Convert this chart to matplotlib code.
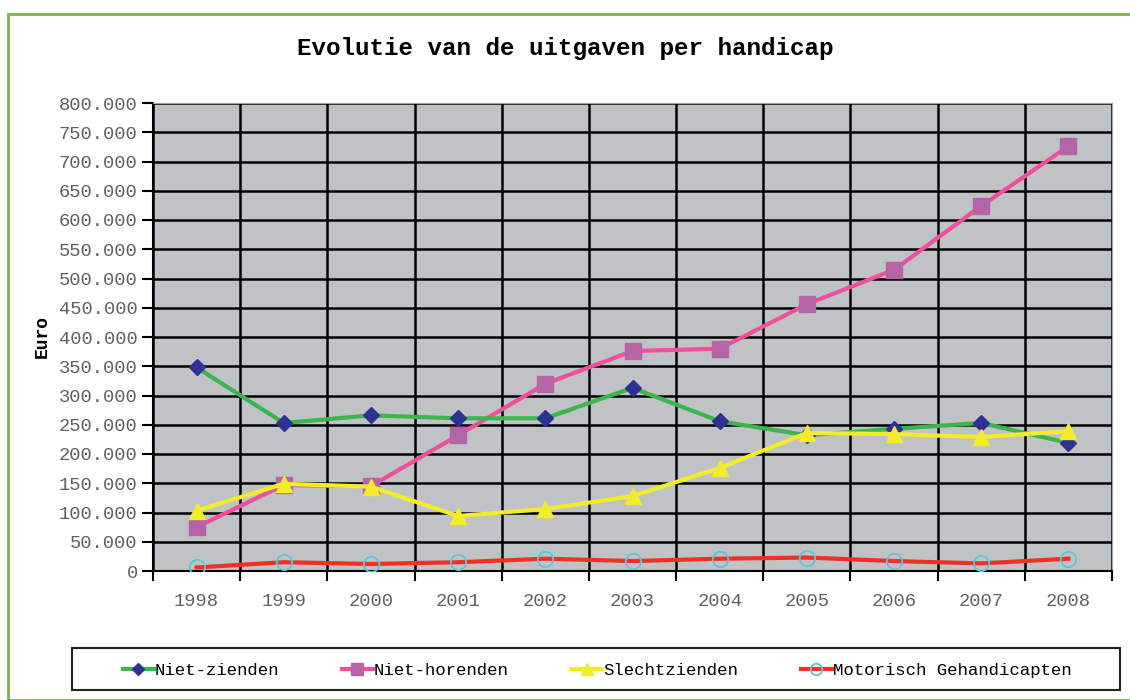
import matplotlib.pyplot as plt
from matplotlib.patches import Rectangle
from matplotlib.ticker import FuncFormatter, FixedLocator, NullFormatter

jaren = ['1998', '1999', '2000', '2001', '2002', '2003', '2004', '2005', '2006', '2007', '2008']

niet_zienden = [348000, 253000, 266000, 261000, 261000, 313000, 256000, 232000, 243000, 253000, 219000]
niet_horenden = [75000, 147000, 145000, 232000, 320000, 376000, 380000, 456000, 515000, 624000, 726000]
slechtzienden = [103000, 149000, 144000, 94000, 106000, 128000, 176000, 236000, 234000, 229000, 239000]
motorisch = [6000, 15000, 12000, 15000, 21000, 17000, 21000, 23000, 17000, 13000, 21000]

mono = 'Liberation Mono'

fig = plt.figure(figsize=(11.3, 7), dpi=100)

# groene rand rond de hele grafiek
fig.patches.append(Rectangle((8 / 1130, 0), 1.1, 1 - 14 / 700, transform=fig.transFigure,
                             fill=False, edgecolor='#7ab648', linewidth=2))
# kader rond de legende
fig.patches.append(Rectangle((72 / 1130, 1 - 690 / 700), (1120 - 72) / 1130, 42 / 700,
                             transform=fig.transFigure, fill=False, edgecolor='#222222', linewidth=1.5))

ax = fig.add_axes([153 / 1130, 1 - 571 / 700, (1112 - 153) / 1130, (571 - 103) / 700])
ax.set_facecolor('#c0c3c6')

x = list(range(len(jaren)))

ax.plot(x, niet_zienden, color='#3cb54a', lw=3, marker='D', ms=8,
        mfc='#2e3192', mec='#2e3192', label='Niet-zienden', zorder=5)
ax.plot(x, niet_horenden, color='#ef4f9d', lw=3, marker='s', ms=11,
        mfc='#b565a7', mec='#b565a7', label='Niet-horenden', zorder=4)
ax.plot(x, slechtzienden, color='#f2ec2a', lw=3, marker='^', ms=12,
        mfc='#f2ec2a', mec='#f2ec2a', label='Slechtzienden', zorder=6)
ax.plot(x, motorisch, color='#ee3124', lw=3, marker='o', ms=11,
        mfc='none', mec='#5bc5d9', mew=1.3, label='Motorisch Gehandicapten', zorder=5)

ax.set_xlim(-0.5, len(jaren) - 0.5)
ax.set_ylim(0, 800000)
ax.set_yticks(range(0, 800001, 50000))
ax.yaxis.set_major_formatter(FuncFormatter(lambda v, p: '0' if v == 0 else f'{int(v):,}'.replace(',', '.')))

ax.xaxis.set_major_locator(FixedLocator([i - 0.5 for i in range(len(jaren) + 1)]))
ax.xaxis.set_major_formatter(NullFormatter())
ax.xaxis.set_minor_locator(FixedLocator(x))
ax.set_xticklabels(jaren, minor=True, family=mono, fontsize=13.5, color='#606060')
ax.tick_params(axis='x', which='minor', length=0, pad=16)
ax.tick_params(axis='x', which='major', length=7, width=1.5, color='black')
ax.tick_params(axis='y', length=8, width=1.5, color='black', pad=3)
for t in ax.get_yticklabels():
    t.set_family(mono)
    t.set_fontsize(13.5)
    t.set_color('#606060')

ax.grid(True, which='major', color='black', lw=1.8)
ax.set_axisbelow(True)
for s in ['top', 'right']:
    ax.spines[s].set_color('#a0a0a0')
for s in ['left', 'bottom']:
    ax.spines[s].set_color('black')
    ax.spines[s].set_linewidth(1.5)

ax.set_ylabel('Euro', family=mono, fontweight='bold', fontsize=13, labelpad=6)
fig.text(0.5, 1 - 49 / 700, 'Evolutie van de uitgaven per handicap', family=mono,
         fontweight='bold', fontsize=17.5, ha='center', va='center')

leg = fig.legend(loc='center', bbox_to_anchor=(597 / 1130, 1 - 670 / 700),
                 ncol=4, prop={'family': mono, 'size': 12.5}, frameon=False,
                 handlelength=1.8, handletextpad=0.05, columnspacing=3.6, markerscale=0.75)

fig.savefig('out.png', dpi=100)
